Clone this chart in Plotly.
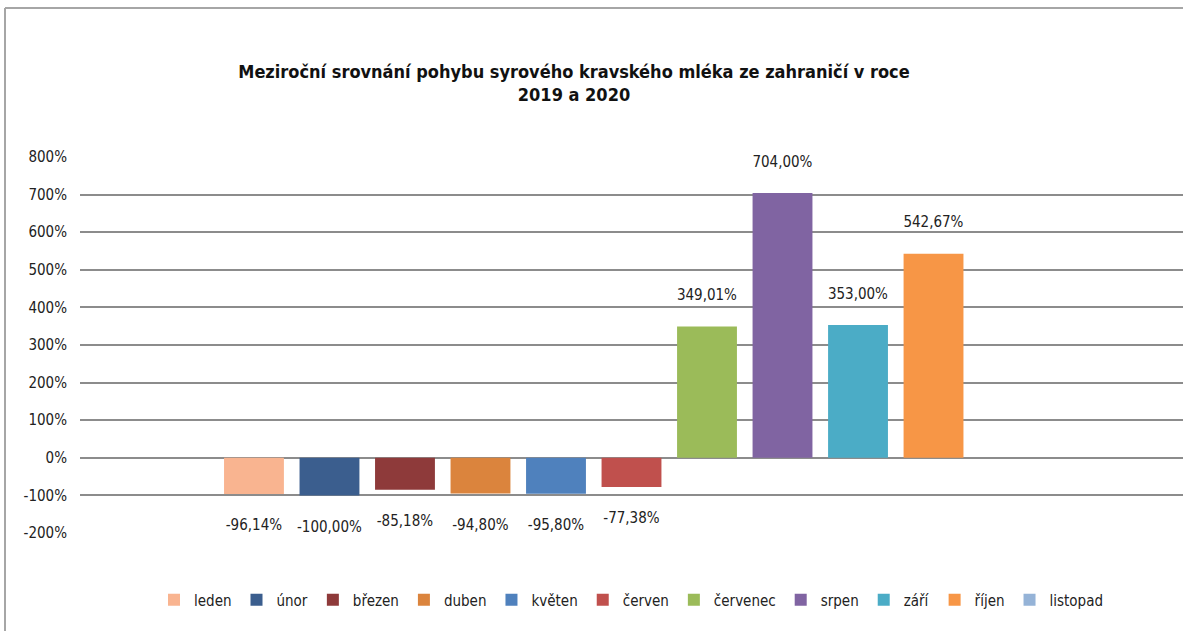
import plotly.graph_objects as go

months = ["leden", "únor", "březen", "duben", "květen", "červen",
          "červenec", "srpen", "září", "říjen", "listopad"]
values = [-96.14, -100.00, -85.18, -94.80, -95.80, -77.38,
          349.01, 704.00, 353.00, 542.67, None]
colors = ["#F9B490", "#3B5E8E", "#8E3A3A", "#DB843D", "#4F81BD", "#C0504D",
          "#9BBB59", "#8064A2", "#4BACC6", "#F79646", "#95B3D7"]
tick_vals = [-200, -100, 0, 100, 200, 300, 400, 500, 600, 700, 800]
tick_text = [f"{v}%" for v in tick_vals]
category = [""]

FONT = "DejaVu Sans Condensed, Liberation Sans Narrow, Arial Narrow, sans-serif"


def fmt(v):
    if v is None:
        return ""
    s = f"{v:.2f}".replace(".", ",") + "%"
    # an empty line pushes the outside label away from the bar end
    return s + "<br> " if v >= 0 else " <br>" + s


fig = go.Figure()
for m, v, c in zip(months, values, colors):
    fig.add_trace(go.Bar(
        name=m, x=category, y=[v], marker=dict(color=c, line=dict(width=0)),
        text=[fmt(v)], textposition="outside", cliponaxis=False,
        constraintext="none",
        textfont=dict(size=15, color="#222222", family=FONT),
        hoverinfo="skip",
    ))

W, H = 1183, 631
L, R, T, B = 80, 0, 157, 98
pw, ph = W - L - R, H - T - B


def px_x(p):
    return (p - L) / pw


def px_y(p):
    return (T + ph - p) / ph


fig.update_layout(
    width=W, height=H,
    margin=dict(l=L, r=R, t=T, b=B),
    paper_bgcolor="white", plot_bgcolor="white",
    barmode="group", bargap=0.247, bargroupgap=0.207,
    font=dict(family=FONT, size=15, color="#222222"),
    title=dict(
        text="<b>Meziroční srovnání pohybu syrového kravského mléka ze zahraničí v roce<br>2019 a 2020</b>",
        x=574 / W, xanchor="center",
        y=1 - 78 / H, yanchor="middle",
        font=dict(family=FONT, size=18, color="#111111"),
    ),
    showlegend=True,
    legend=dict(
        orientation="h", x=0.5, xanchor="center",
        y=px_y(600), yanchor="middle",
        font=dict(family=FONT, size=15, color="#222222"),
        itemwidth=30, traceorder="normal",
    ),
    xaxis=dict(showticklabels=False, showgrid=False, zeroline=False,
               showline=False, ticks=""),
    yaxis=dict(range=[-200, 800], tickvals=tick_vals, ticktext=tick_text,
               showgrid=True, gridcolor="#8c8c8c", gridwidth=1.5,
               zeroline=True, zerolinecolor="#8c8c8c", zerolinewidth=1.5,
               showline=False, ticks="", ticklabelstandoff=12,
               tickfont=dict(family=FONT, size=15, color="#222222")),
    shapes=[
        dict(type="line", xref="paper", yref="paper",
             x0=px_x(5), x1=px_x(W + 5), y0=px_y(8), y1=px_y(8),
             line=dict(color="#a6a6a6", width=2), layer="below"),
        dict(type="line", xref="paper", yref="paper",
             x0=px_x(5), x1=px_x(5), y0=px_y(8), y1=px_y(H + 5),
             line=dict(color="#a6a6a6", width=2), layer="below"),
    ],
)

fig.write_html("out.html", config={"displayModeBar": False},
               post_script="document.body.style.margin='0';")
